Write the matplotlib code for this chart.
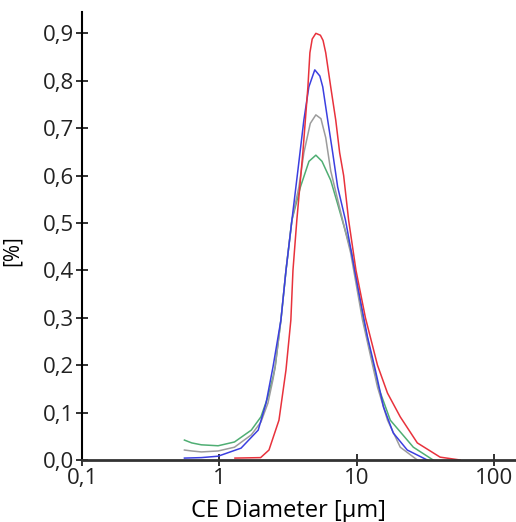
import matplotlib
matplotlib.use("Agg")
import matplotlib.pyplot as plt
from matplotlib.ticker import FixedLocator, NullLocator

# size distributions (x in um, y in %)
red_x = [1.3, 2.0, 2.3, 2.72, 3.06, 3.32, 3.44, 3.67, 4.06, 4.42, 4.57, 4.75, 5.05, 5.45, 5.7, 5.96,
         6.48, 7.05, 7.53, 8.05, 8.75, 9.9, 11.6, 14.2, 16.8, 20.8, 27.7, 40.6, 56.7]
red_y = [0.004, 0.005, 0.021, 0.084, 0.19, 0.295, 0.40, 0.506, 0.648, 0.787, 0.859, 0.888, 0.90, 0.896,
         0.885, 0.859, 0.787, 0.717, 0.648, 0.60, 0.506, 0.40, 0.30, 0.20, 0.141, 0.091, 0.036, 0.006, 0.0]

blue_x = [0.557, 0.74, 0.98, 1.44, 1.92, 2.19, 2.46, 2.81, 3.06, 3.38, 3.74, 4.13, 4.49, 4.96, 5.4,
          5.67, 6.16, 6.70, 7.28, 8.3, 8.75, 10.2, 12.0, 13.7, 15.7, 18.5, 23.4, 32.7]
blue_y = [0.004, 0.005, 0.008, 0.025, 0.063, 0.12, 0.196, 0.295, 0.40, 0.506, 0.612, 0.717, 0.787,
          0.823, 0.81, 0.787, 0.717, 0.648, 0.576, 0.506, 0.47, 0.365, 0.26, 0.19, 0.112, 0.057, 0.021, 0.0]

gray_x = [0.557, 0.63, 0.74, 0.98, 1.29, 1.71, 2.01, 2.26, 2.46, 2.55, 2.81, 3.06, 3.38, 3.80, 4.13,
          4.6, 5.05, 5.5, 5.96, 6.48, 7.41, 8.32, 9.05, 11.05, 14.2, 16.8, 20.8, 27.7]
gray_y = [0.021, 0.019, 0.017, 0.019, 0.027, 0.053, 0.08, 0.12, 0.17, 0.196, 0.295, 0.40, 0.506,
          0.576, 0.648, 0.71, 0.728, 0.72, 0.68, 0.61, 0.54, 0.48, 0.437, 0.295, 0.154, 0.084, 0.027, 0.0]

green_x = [0.557, 0.63, 0.74, 0.98, 1.29, 1.71, 2.01, 2.26, 2.46, 2.55, 2.81, 3.06, 3.38, 3.9, 4.5,
           5.05, 5.6, 6.48, 7.28, 9.2, 11.2, 14.4, 17.6, 25.9, 36.1]
green_y = [0.042, 0.036, 0.032, 0.030, 0.038, 0.063, 0.091, 0.133, 0.175, 0.196, 0.295, 0.40, 0.506,
           0.576, 0.63, 0.643, 0.63, 0.59, 0.54, 0.437, 0.295, 0.154, 0.084, 0.027, 0.0]

x_ticks = [0.1, 1, 10, 100]
x_labels = ["0,1", "1", "10", "100"]
y_ticks = [0.0, 0.1, 0.2, 0.3, 0.4, 0.5, 0.6, 0.7, 0.8, 0.9]
y_labels = ["0,0", "0,1", "0,2", "0,3", "0,4", "0,5", "0,6", "0,7", "0,8", "0,9"]

plt.rcParams['font.family'] = ['Open Sans', 'DejaVu Sans']

fig = plt.figure(figsize=(5.16, 5.22), dpi=100)
ax = fig.add_axes([0.159, 0.1188, 0.841, 0.8582])

ax.plot(green_x, green_y, color='#4fae73', lw=1.1)
ax.plot(gray_x, gray_y, color='#9c9c9c', lw=1.1)
ax.plot(blue_x, blue_y, color='#3b3fe0', lw=1.1)
ax.plot(red_x, red_y, color='#e8323c', lw=1.1)

ax.set_xscale('log')
ax.set_xlim(0.1, 145)
ax.set_ylim(0, 0.945)
ax.xaxis.set_major_locator(FixedLocator(x_ticks))
ax.xaxis.set_minor_locator(NullLocator())
ax.set_xticklabels(x_labels)
ax.set_yticks(y_ticks)
ax.set_yticklabels(y_labels)

for s in ['top', 'right']:
    ax.spines[s].set_visible(False)
ax.spines['left'].set_linewidth(1.5)
ax.spines['bottom'].set_linewidth(2.0)
ax.spines['bottom'].set_color('#333333')
ax.tick_params(direction='inout', length=9, width=1.3, labelsize=16, pad=1, colors='#222222')

ax.set_xlabel("CE Diameter [µm]", fontsize=17)
ax.set_ylabel("[%]", fontsize=15)
ax.xaxis.set_label_coords(0.475, -0.088)
ax.yaxis.set_label_coords(-0.137, 0.467)

plt.savefig('out.png', dpi=100)
